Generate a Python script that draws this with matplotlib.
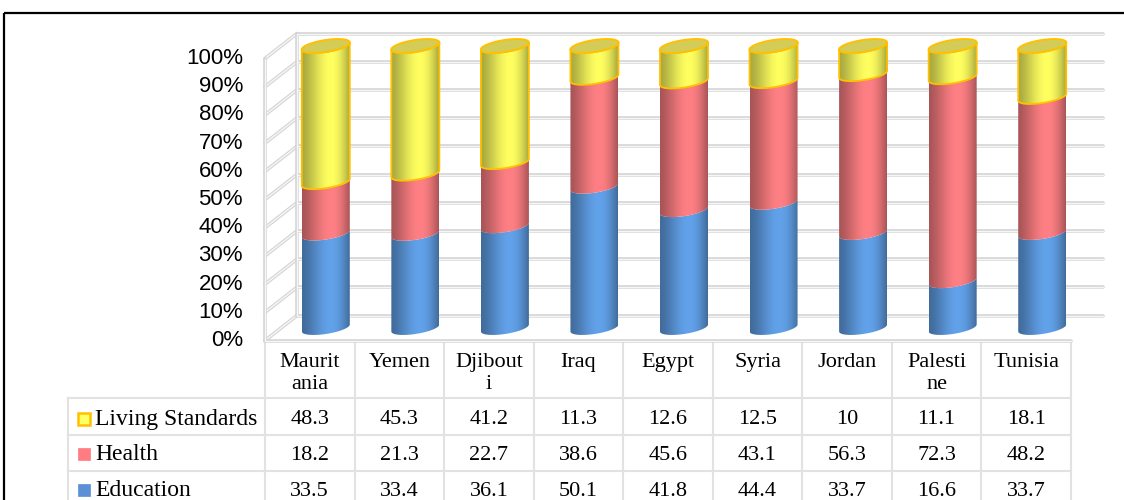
import numpy as np
import matplotlib.pyplot as plt
from matplotlib.patches import Polygon, Rectangle
from matplotlib.transforms import offset_copy, blended_transform_factory

# data
countries = ['Maurit\nania', 'Yemen', 'Djibout\ni', 'Iraq', 'Egypt', 'Syria',
             'Jordan', 'Palesti\nne', 'Tunisia']
education = [33.5, 33.4, 36.1, 50.1, 41.8, 44.4, 33.7, 16.6, 33.7]
health = [18.2, 21.3, 22.7, 38.6, 45.6, 43.1, 56.3, 72.3, 48.2]
living = [48.3, 45.3, 41.2, 11.3, 12.6, 12.5, 10, 11.1, 18.1]
yticks = list(range(0, 101, 10))

# table rows, top to bottom
table_rows = [('Living Standards', living), ('Health', health), ('Education', education)]

bar_col = {'Education': '#62a2ea', 'Health': '#ff8084', 'Living Standards': '#ffff60'}
key_col = {'Education': '#5b8fd6', 'Health': '#ff7c80', 'Living Standards': '#ffff66'}
orange = '#ffc000'

SERIF = 'Liberation Serif'
SANS = 'Liberation Sans'

fig = plt.figure(figsize=(11.24, 5), dpi=100)
# pixel canvas for frame and table
ax_f = fig.add_axes([0, 0, 1, 1])
ax_f.set_xlim(0, 1124)
ax_f.set_ylim(500, 0)
ax_f.axis('off')

# main plot: middle depth plane of the 3d box (0% at y=328 px, 100% at y=46 px)
px_x = 806 / 9
px_y = 282 / 100
y_lo, y_hi = -10, 110
ax = fig.add_axes([281 / 1124, (500 - 328 + y_lo * px_y) / 500,
                   806 / 1124, (y_hi - y_lo) * px_y / 500])
ax.set_xlim(-0.5, 8.5)
ax.set_ylim(y_lo, y_hi)
ax.axis('off')
ax.set_autoscale_on(False)

DX, DY = 16, 12.5
back = offset_copy(ax.transData, fig=fig, x=DX, y=DY, units='dots')
front = offset_copy(ax.transData, fig=fig, x=-DX, y=-DY, units='dots')


def to_px(tr, x, y):
    d = tr.transform((x, y))
    return ax_f.transData.inverted().transform(d)


def grid_line(xs, ys, axis, tr=None):
    kw = dict(clip_on=False, solid_capstyle='round')
    if tr is not None:
        kw['transform'] = tr
    axis.plot(xs, ys, color='#d4d4d4', lw=2.6, zorder=1, **kw)
    axis.plot(xs, ys, color='#f6f6f6', lw=1.0, zorder=1.1, **kw)


# back wall + side wall
for v in yticks:
    grid_line([-0.5, 8.5], [v, v], ax, back)
    p1 = to_px(back, -0.5, v)
    p2 = to_px(front, -0.5, v)
    grid_line([p1[0], p2[0]], [p1[1], p2[1]], ax_f)
grid_line([-0.5, -0.5], [0, 100], ax, front)
grid_line([-0.5, -0.5], [0, 100], ax, back)
grid_line([-0.5, 8.5], [0, 0], ax, front)

# cylinders
rx = 24 / px_x
ey = 6 / px_y
ky = 3.5 / px_y
t_low = np.linspace(np.pi, 2 * np.pi, 60)
t_all = np.linspace(0, 2 * np.pi, 120)
u = np.linspace(0, 1, 120)
shade = 0.66 + 0.34 * np.sin(np.pi * u ** 1.36)


def arc(c, y, t):
    return c + rx * np.cos(t), y + ey * np.sin(t) + ky * np.cos(t)


def gradient(hexcol):
    rgb = np.array(plt.matplotlib.colors.to_rgb(hexcol))
    return np.clip(rgb[None, :] * shade[:, None], 0, 1)[None, :, :]


stack = [('Education', education), ('Health', health), ('Living Standards', living)]
for i in range(len(countries)):
    base = 0.0
    for name, vals in stack:
        lo, hi = base, base + vals[i]
        xa, ya = arc(i, lo, t_low)
        xb, yb = arc(i, hi, t_low[::-1])
        verts = np.column_stack([np.r_[xa, xb], np.r_[ya, yb]])
        poly = Polygon(verts, closed=True, facecolor='none', edgecolor='none', zorder=3)
        ax.add_patch(poly)
        im = ax.imshow(gradient(bar_col[name]),
                       extent=(i - rx, i + rx, lo - ey - ky - 1, hi + ey + ky + 1),
                       aspect='auto', interpolation='bilinear', zorder=3)
        im.set_clip_path(poly)
        if name == 'Living Standards':
            ax.add_patch(Polygon(verts, closed=True, fill=False, edgecolor=orange, lw=1.3,
                                 zorder=4))
        base = hi
    xc, yc = arc(i, base, t_all)
    ax.add_patch(Polygon(np.column_stack([xc, yc]), closed=True, facecolor='#d4cc58',
                         edgecolor=orange, lw=1.4, zorder=5))

# y labels on the front plane
lab_tr = offset_copy(ax.transData, fig=fig, x=-DX - 22, y=-DY, units='dots')
for v in yticks:
    ax.text(-0.5, v, f'{v}%', transform=lab_tr, ha='right', va='center',
            fontsize=16, family=SANS, color='black', clip_on=False)

# data table
col_tr = blended_transform_factory(front, ax_f.transData)
line_kw = dict(color='#e2e2e2', lw=1.5, zorder=0)
for j in range(len(countries) + 1):
    ax_f.plot([j - 0.5, j - 0.5], [343, 500], transform=col_tr, **line_kw)
ax_f.plot([68, 68], [398, 500], **line_kw)
x_right = to_px(front, 8.5, 0)[0]
for yl in [398, 435, 471]:
    ax_f.plot([68, x_right], [yl, yl], **line_kw)

for j, name in enumerate(countries):
    ax_f.text(j, 353, name, transform=col_tr, ha='center', va='top', fontsize=16,
              family=SERIF, linespacing=1.2)

row_y = [420, 455, 491]
for (name, vals), yc in zip(table_rows, row_y):
    ec = orange if name == 'Living Standards' else key_col[name]
    ax_f.add_patch(Rectangle((78, yc - 7), 12, 12, facecolor=key_col[name], edgecolor=ec,
                             lw=1.8 if name == 'Living Standards' else 0.5))
    ax_f.text(95, yc, name, ha='left', va='center', fontsize=17, family=SERIF)
    for j, v in enumerate(vals):
        ax_f.text(j, yc, f'{v:g}', transform=col_tr, ha='center', va='center',
                  fontsize=16, family=SERIF)

# outer frame
ax_f.add_patch(Rectangle((4, 13), 1200, 600, fill=False, edgecolor='black', lw=1.6, clip_on=False))

fig.savefig('out.png', dpi=100)
